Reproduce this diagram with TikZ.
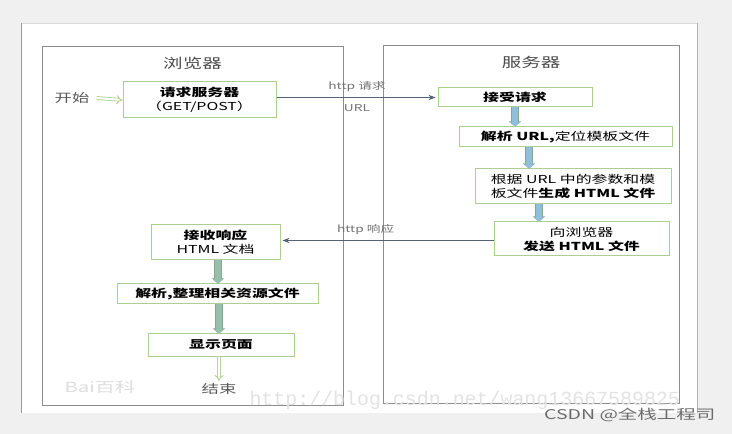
\documentclass[tikz,border=0pt]{standalone}
\usepackage{fontspec}
\setmainfont{Noto Sans CJK SC}[FakeStretch=1.45]
\newfontfamily\wmfont{Liberation Mono}
\usepackage{xcolor}
\usetikzlibrary{arrows.meta, positioning}

\definecolor{bggray}{RGB}{240,240,240}
\definecolor{framegray}{RGB}{140,140,140}
\definecolor{boxgreen}{RGB}{169,208,142}
\definecolor{httpline}{RGB}{84,98,120}
\definecolor{srvfill}{RGB}{145,190,218}
\definecolor{brwfill}{RGB}{150,192,172}
\definecolor{arroutline}{RGB}{135,168,140}
\definecolor{labelgray}{RGB}{115,115,115}

\begin{document}
\begin{tikzpicture}[
    x=1bp, y=-1bp,
    >=Stealth,
    font=\fontsize{11}{14}\selectfont,
    panel/.style={draw=framegray, line width=0.9bp, rectangle, inner sep=0pt},
    paneltitle/.style={font=\fontsize{13.5}{15}\selectfont, text=black!70},
    stepbox/.style={draw=boxgreen, line width=1bp, rectangle, inner sep=0pt, align=center, fill=white},
    httparr/.style={->, draw=httpline, line width=0.9bp, shorten >=2bp},
    httplabel/.style={font=\fontsize{9.5}{11}\selectfont, text=labelgray},
    flowarr/.style={line width=6bp, draw=#1, -{Triangle[length=4bp, width=10bp]},
        preaction={draw=arroutline, line width=7.6bp, -{Triangle[length=5bp, width=12bp]}}},
    hollowarr/.style={draw=boxgreen, double=white, double distance=2.2bp, line width=0.8bp, -{Implies}},
    termtext/.style={font=\fontsize{12}{14}\selectfont, text=black!65}
]

% page and backdrop
\fill[bggray] (0,0) rectangle (732,434);
\useasboundingbox (0,0) rectangle (732,434);
\fill[white] (21,23) rectangle (697,413);
\draw[black!15] (21,23) -- (697,23);
\draw[black!40] (21,23) -- (21,413);
\draw[black!30] (697,23) -- (697,413);

% the two panels
\node[panel, minimum width=301bp, minimum height=359bp] (browser) at (192.5,225.5) {};
\node[panel, minimum width=296bp, minimum height=358bp] (server) at (531,224) {};
\node[paneltitle, below=8bp of browser.north] (browsertitle) {浏览器};
\node[paneltitle, below=8bp of server.north] (servertitle) {服务器};

% browser side
\node[termtext] (start) at (72,98) {开始};
\node[stepbox, minimum width=153bp, minimum height=36bp] (req) at (199.5,100) {\textbf{请求服务器}\\（GET/POST）};
\node[stepbox, minimum width=129bp, minimum height=35bp] (recv) at (215.5,242.5) {\textbf{接收响应}\\HTML 文档};
\node[stepbox, minimum width=201bp, minimum height=20bp] (parseres) at (217.5,294) {\textbf{解析,整理相关资源文件}};
\node[stepbox, minimum width=146bp, minimum height=22bp] (show) at (221,345) {\textbf{显示页面}};
\node[termtext] (end) at (219,389) {结束};

% server side
\node[stepbox, minimum width=154bp, minimum height=19bp] (accept) at (515,97.5) {\textbf{接受请求}};
\node[stepbox, minimum width=213bp, minimum height=20bp] (parseurl) at (565.5,137) {\textbf{解析 URL,}定位模板文件};
\node[stepbox, minimum width=196bp, minimum height=35bp] (gen) at (573,186.5) {根据 URL 中的参数和模\\板文件\textbf{生成 HTML 文件}};
\node[stepbox, minimum width=175bp, minimum height=34bp] (send) at (581.5,239) {向浏览器\\\textbf{发送 HTML 文件}};

% request and response
\draw[httparr] (req.east |- accept.west) -- node[httplabel, above=2bp] (reqlabel) {http 请求}
    node[httplabel, below=3bp] (urllabel) {URL} (accept.west);
\draw[httparr] ([yshift=-1.5bp]send.west) -- node[httplabel, above=2bp, pos=0.6] (resplabel) {http 响应}
    ([yshift=-1.5bp]send.west -| recv.east);

% flow inside the panels
\draw[hollowarr] ([xshift=4bp]start.east) -- (req.west);
\draw[flowarr=srvfill] (accept.south) -- (accept.south |- parseurl.north);
\draw[flowarr=srvfill] ([xshift=-36.5bp]parseurl.south) -- ([xshift=-36.5bp]parseurl.south |- gen.north);
\draw[flowarr=srvfill] ([xshift=-34bp]gen.south) -- ([xshift=-34bp]gen.south |- send.north);
\draw[flowarr=brwfill] ([xshift=2.5bp]recv.south) -- ([xshift=2.5bp]recv.south |- parseres.north);
\draw[flowarr=brwfill] ([xshift=1.5bp]parseres.south) -- ([xshift=1.5bp]parseres.south |- show.north);
\draw[hollowarr] ([xshift=-2bp]show.south) -- ([yshift=-1bp]end.north);

% watermarks
\node[font=\fontsize{14}{16}\selectfont, text=black!13] (baidu) at (100,387) {Bai百科};
\node[font=\wmfont\fontsize{20}{22}\selectfont, text=black!11, anchor=west] (urlmark) at (246,400) {http://blog.csdn.net/wang13667589825};
\node[font=\fontsize{13.5}{15}\selectfont, text=black!58, anchor=east] (csdn) at (719,415) {CSDN @全栈工程司};

\end{tikzpicture}
\end{document}
